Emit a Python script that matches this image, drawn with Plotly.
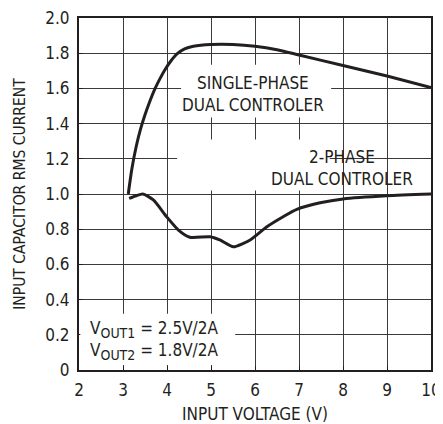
import plotly.graph_objects as go

FONT = "DejaVu Sans Condensed, Liberation Sans, sans-serif"
INK = "#231f20"

# Data
single_x = [3.12, 3.2, 3.3, 3.4, 3.5, 3.6, 3.73, 3.85, 3.95, 4.1, 4.22, 4.4, 4.6, 5.0, 5.5, 6.0, 6.5, 7.0, 8.0, 9.0, 10.0]
single_y = [1.0, 1.14, 1.27, 1.37, 1.45, 1.52, 1.60, 1.66, 1.705, 1.76, 1.795, 1.825, 1.84, 1.85, 1.85, 1.84, 1.82, 1.79, 1.73, 1.67, 1.605]

two_x = [3.14, 3.3, 3.45, 3.69, 3.99, 4.26, 4.52, 4.98, 5.2, 5.51, 5.89, 6.27, 6.64, 6.95, 7.48, 8.0, 9.0, 10.0]
two_y = [0.975, 0.99, 1.0, 0.966, 0.871, 0.795, 0.754, 0.757, 0.739, 0.70, 0.739, 0.814, 0.871, 0.913, 0.95, 0.972, 0.99, 1.0]

x_ticks = [2, 3, 4, 5, 6, 7, 8, 9, 10]
y_ticks = [0, 0.2, 0.4, 0.6, 0.8, 1.0, 1.2, 1.4, 1.6, 1.8, 2.0]
y_ticktext = ["0", "0.2", "0.4", "0.6", "0.8", "1.0", "1.2", "1.4", "1.6", "1.8", "2.0"]

fig = go.Figure()
fig.add_trace(go.Scatter(x=single_x, y=single_y, mode="lines", line=dict(color=INK, width=3, shape="spline", smoothing=0.6),
                         name="Single-phase", showlegend=False))
fig.add_trace(go.Scatter(x=two_x, y=two_y, mode="lines", line=dict(color=INK, width=3, shape="spline", smoothing=0.6),
                         name="2-phase", showlegend=False))

# white boxes behind labels (cover gridlines; no curve passes through them)
boxes = [
    (4.32, 7.73, 1.435, 1.735),   # single-phase label
    (4.23, 7.70, 1.02, 1.31),     # 2-phase label
    (2.03, 5.55, 0.028, 0.32),    # vout note
]
for x0, x1, y0, y1 in boxes:
    fig.add_shape(type="rect", x0=x0, x1=x1, y0=y0, y1=y1, xref="x", yref="y",
                  fillcolor="white", line=dict(width=0), layer="above")

fig.add_annotation(x=5.96, y=1.57, text="SINGLE-PHASE<br>DUAL CONTROLER", showarrow=False,
                   font=dict(family=FONT, size=17, color=INK), align="center")
fig.add_annotation(x=7.98, y=1.15, text="2-PHASE<br>DUAL CONTROLER", showarrow=False,
                   font=dict(family=FONT, size=17, color=INK), align="center")
fig.add_annotation(x=2.2, y=0.165, xanchor="left",
                   text="V<sub><span style=\"font-size:14px\">OUT1</span></sub> = 2.5V/2A<br>"
                        "V<sub><span style=\"font-size:14px\">OUT2</span></sub> = 1.8V/2A",
                   showarrow=False, font=dict(family=FONT, size=17, color=INK), align="left")

fig.update_xaxes(range=[2, 10], tickvals=x_ticks, showgrid=True, gridcolor="#3a3a3a", gridwidth=1,
                 showline=True, linecolor=INK, linewidth=2, mirror=True, zeroline=False,
                 ticks="inside", ticklen=4, tickcolor=INK, tickwidth=1, automargin=False,
                 ticklabelstandoff=4, ticklabeloverflow="allow",
                 tickfont=dict(family=FONT, size=17, color=INK),
                 title=dict(text="INPUT VOLTAGE (V)", font=dict(family=FONT, size=17, color=INK), standoff=12))
fig.update_yaxes(range=[0, 2], tickvals=y_ticks, ticktext=y_ticktext, showgrid=True, gridcolor="#3a3a3a", gridwidth=1,
                 showline=True, linecolor=INK, linewidth=2, mirror=True, zeroline=False,
                 ticks="inside", ticklen=4, tickcolor=INK, tickwidth=1, automargin=False,
                 ticklabelstandoff=4, ticklabeloverflow="allow",
                 tickfont=dict(family=FONT, size=17, color=INK),
                 title=dict(text="INPUT CAPACITOR RMS CURRENT", font=dict(family=FONT, size=15.5, color=INK), standoff=16))

# the page body adds an 8px offset; margins compensate so the plot area matches the reference
fig.update_layout(width=435, height=416, margin=dict(l=71, r=12, t=10, b=54),
                  paper_bgcolor="white", plot_bgcolor="white", showlegend=False)

fig.write_html("out.html")
